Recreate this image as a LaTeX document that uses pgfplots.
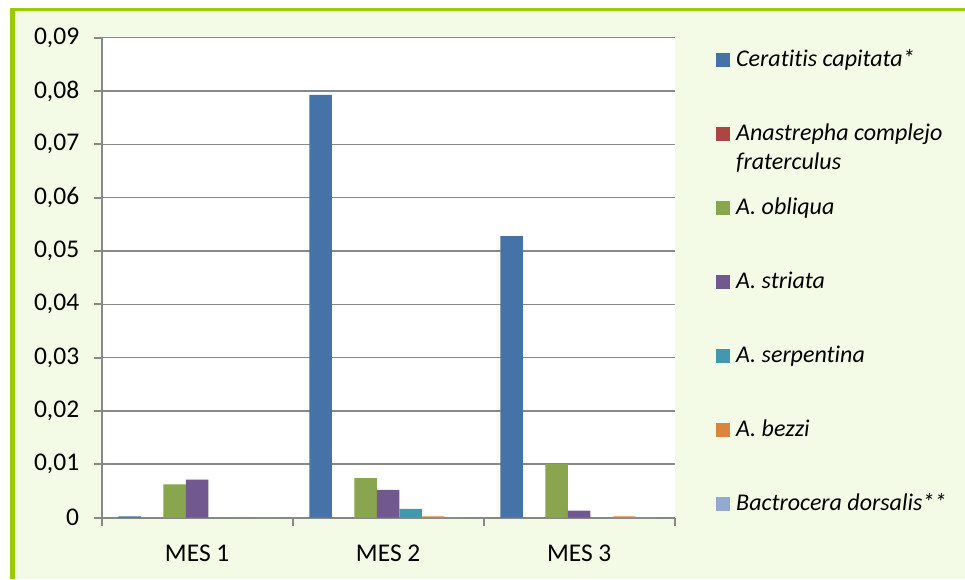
\documentclass[border=0pt]{standalone}
\usepackage{fontspec}
\setmainfont{Carlito}[Ligatures={NoCommon,NoDiscretionary}]
\usepackage{pgfplots}
\pgfplotsset{compat=1.18}
\definecolor{c1}{HTML}{4572A7}
\definecolor{c2}{HTML}{AA4643}
\definecolor{c3}{HTML}{89A54E}
\definecolor{c4}{HTML}{71588F}
\definecolor{c5}{HTML}{4198AF}
\definecolor{c6}{HTML}{DB843D}
\definecolor{c7}{HTML}{93A9CF}
\definecolor{bgc}{HTML}{F3FAE5}
\definecolor{brd}{HTML}{99CC00}
\definecolor{axgray}{HTML}{888888}
\begin{document}
\begin{tikzpicture}
\path[use as bounding box] (0,0) rectangle (965pt,579pt);
\fill[white] (0,0) rectangle (965pt,579pt);
\fill[bgc] (15pt,0) rectangle (965pt,568pt);
\fill[brd] (10pt,0) rectangle (15pt,571pt);
\fill[brd] (10pt,568pt) rectangle (965pt,571pt);
\begin{axis}[
at={(101.7pt,61.5pt)}, anchor=south west,
scale only axis, width=573pt, height=479.8pt,
axis background/.style={fill=white},
ybar=0pt, bar width=22.5pt,
xmin=-0.5, xmax=2.5, ymin=0, ymax=0.09,
xtick={-0.5,0.5,1.5,2.5},
x tick label as interval,
xticklabels={MES 1,MES 2,MES 3},
scaled y ticks=false,
ytick={0,0.01,0.02,0.03,0.04,0.05,0.06,0.07,0.08,0.09},
yticklabels={0,{0,01},{0,02},{0,03},{0,04},{0,05},{0,06},{0,07},{0,08},{0,09}},
axis x line*=bottom, axis y line*=left,
axis line style={draw=axgray, line width=2pt},
ymajorgrids, grid style={draw=axgray, line width=1.5pt},
tick align=outside, major tick length=8pt,
tick style={draw=axgray, line width=2pt},
yticklabel style={font=\fontsize{25.5}{30}\selectfont, xshift=-11pt},
xticklabel style={font=\fontsize{25.5}{30}\selectfont, anchor=base, yshift=-36pt},
legend cell align=left,
legend image code/.code={\fill[#1] (0pt,-5pt) rectangle (14pt,9pt);},
legend style={at={(1.0721,0.9729)}, anchor=north west, draw=none, fill=none,
  inner sep=0pt, row sep=52pt, font=\fontsize{24}{29}\selectfont\itshape,
  nodes={inner sep=0pt, text height=16pt, text depth=6pt},
  /tikz/every odd column/.append style={column sep=6pt}},
]
\addplot[fill=c1, draw=none] coordinates {(0,0.0002) (1,0.0793) (2,0.0528)};
\addlegendentry{Ceratitis capitata*}
\addplot[fill=c2, draw=none] coordinates {(0,0) (1,0) (2,0)};
\addlegendentry{\raisebox{0pt}[\height][0pt]{\parbox[t]{220pt}{Anastrepha complejo\\fraterculus}}}
\addplot[fill=c3, draw=none] coordinates {(0,0.0062) (1,0.0074) (2,0.0100)};
\addlegendentry{A. obliqua}
\addplot[fill=c4, draw=none] coordinates {(0,0.0071) (1,0.0052) (2,0.0013)};
\addlegendentry{A. striata}
\addplot[fill=c5, draw=none] coordinates {(0,0) (1,0.0016) (2,0)};
\addlegendentry{A. serpentina}
\addplot[fill=c6, draw=none] coordinates {(0,0) (1,0.0002) (2,0.0002)};
\addlegendentry{A. bezzi}
\addplot[fill=c7, draw=none] coordinates {(0,0) (1,0) (2,0)};
\addlegendentry{Bactrocera dorsalis**}
\end{axis}
\end{tikzpicture}
\end{document}
